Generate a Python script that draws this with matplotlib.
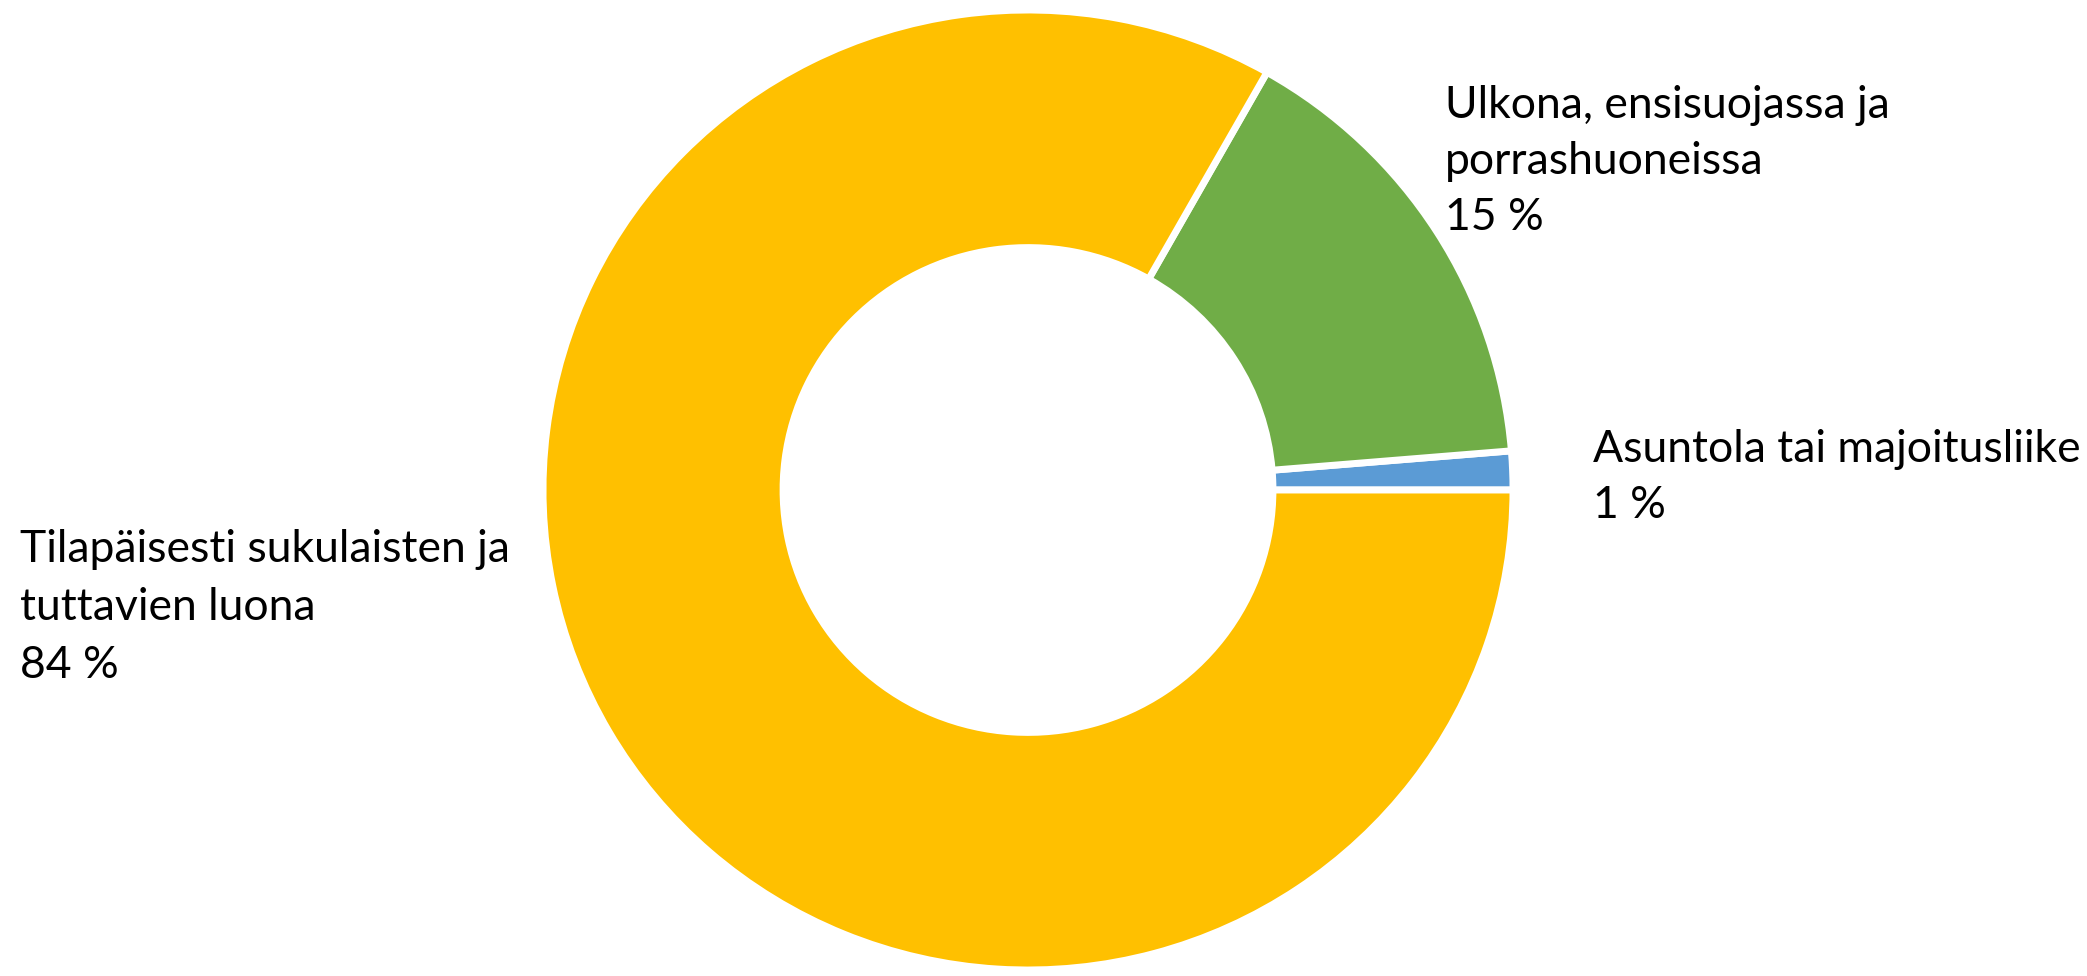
import matplotlib
matplotlib.use("Agg")
import matplotlib.pyplot as plt

# Data (counter-clockwise from 3 o'clock)
categories = ["Asuntola tai majoitusliike",
              "Ulkona, ensisuojassa ja porrashuoneissa",
              "Tilapäisesti sukulaisten ja tuttavien luona"]
values = [1.3, 15.5, 83.2]
pct_labels = ["1 %", "15 %", "84 %"]
colors = ["#5B9BD5", "#70AD47", "#FFC000"]

W, H = 2087, 976
fig = plt.figure(figsize=(W / 100, H / 100), dpi=100)
fig.patch.set_facecolor("white")

# donut axes placed in pixel terms
cx, cy = 1028, 490
rx, ry = 485, 480
ax = fig.add_axes([(cx - rx) / W, (H - cy - ry) / H, 2 * rx / W, 2 * ry / H])
ax.pie(values, colors=colors, startangle=0, counterclock=True, radius=1.0,
       wedgeprops=dict(width=0.495, edgecolor="white", linewidth=5))
ax.set_xlim(-1, 1)
ax.set_ylim(-1, 1)
ax.set_aspect("auto")
ax.axis("off")

font = "Lato"
fs = 32
tcol = "black"

def label(x, baselines, lines):
    for yb, s in zip(baselines, lines):
        fig.text(x / W, 1 - yb / H, s, ha="left", va="baseline",
                 fontsize=fs, family=font, color=tcol)

label(20, [562, 620, 678], ["Tilapäisesti sukulaisten ja", "tuttavien luona", pct_labels[2]])
label(1445, [118, 174, 230], ["Ulkona, ensisuojassa ja", "porrashuoneissa", pct_labels[1]])
label(1593, [462, 518], ["Asuntola tai majoitusliike", pct_labels[0]])

fig.savefig("out.png", dpi=100, facecolor="white")
